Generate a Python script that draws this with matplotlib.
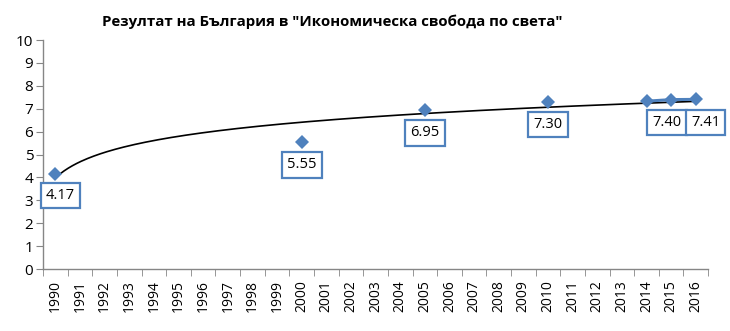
import matplotlib
matplotlib.use("Agg")
import matplotlib.pyplot as plt
import numpy as np
import pandas as pd

# category axis: every year from 1990 to 2016
years = list(range(1990, 2017))

# scores (missing years are gaps)
score_years = [1990, 2000, 2005, 2010, 2014, 2015, 2016]
scores = [4.17, 5.55, 6.95, 7.30, 7.33, 7.40, 7.41]

# which points carry a value label, and its offset (px) from the marker
label_years = [1990, 2000, 2005, 2010, 2015, 2016]
label_dx = [5, 0, 0, 0, -4, 10]
label_dy = [-22, -23, -23, -23, -23, -23]

title = 'Резултат на България в "Икономическа свобода по света"'

plt.rcParams['font.family'] = ['Open Sans', 'DejaVu Sans']

series = pd.Series(scores, index=score_years).reindex(years)
xpos = np.arange(len(years))

fig = plt.figure(figsize=(7.3, 3.31), dpi=100)
ax = fig.add_axes([0.059, 0.187, 0.911, 0.692])

blue = '#4F81BD'
axis_col = '#868686'

# data series (line with diamond markers, gaps where no data)
ax.plot(xpos, series.values, color=blue, linewidth=2.2, marker='D',
        markersize=7, markeredgewidth=0, zorder=3)

# logarithmic trendline fitted on category index (1..27), Excel style
mask = ~series.isna().values
xi = xpos[mask] + 1
coef = np.polyfit(np.log(xi), series.values[mask], 1)
xt = np.linspace(1, len(years), 300)
ax.plot(xt - 1, coef[0] * np.log(xt) + coef[1], color='black', linewidth=1.2, zorder=2)

# boxed value labels
px = 72 / 100
for yr, dx, dy in zip(label_years, label_dx, label_dy):
    i = years.index(yr)
    v = series[yr]
    ax.annotate(f'{v:.2f}', (i, v), xytext=(dx * px, dy * px), textcoords='offset points',
                ha='center', va='center', fontsize=10.5, color='black', zorder=4,
                bbox=dict(boxstyle='square,pad=0.35', fc='white', ec=blue, lw=1.6))

ax.set_xlim(-0.5, len(years) - 0.5)
ax.set_ylim(0, 10)
ax.set_yticks(range(0, 11))
ax.set_xticks(xpos)
ax.set_xticklabels([str(y) for y in years], rotation=90)
ax.set_xticks(np.arange(-0.5, len(years)), minor=True)
ax.tick_params(axis='x', which='major', length=0, labelsize=10, pad=8)
ax.tick_params(axis='x', which='minor', length=5, color=axis_col, direction='out')
ax.tick_params(axis='y', length=5, color=axis_col, labelsize=11, pad=2)

for s in ['top', 'right']:
    ax.spines[s].set_visible(False)
for s in ['left', 'bottom']:
    ax.spines[s].set_color(axis_col)
    ax.spines[s].set_linewidth(1.0)

fig.text(0.455, 0.935, title, ha='center', va='center', fontsize=10.8, fontweight='bold')

fig.savefig('out.png', dpi=100, facecolor='white')
plt.close(fig)
